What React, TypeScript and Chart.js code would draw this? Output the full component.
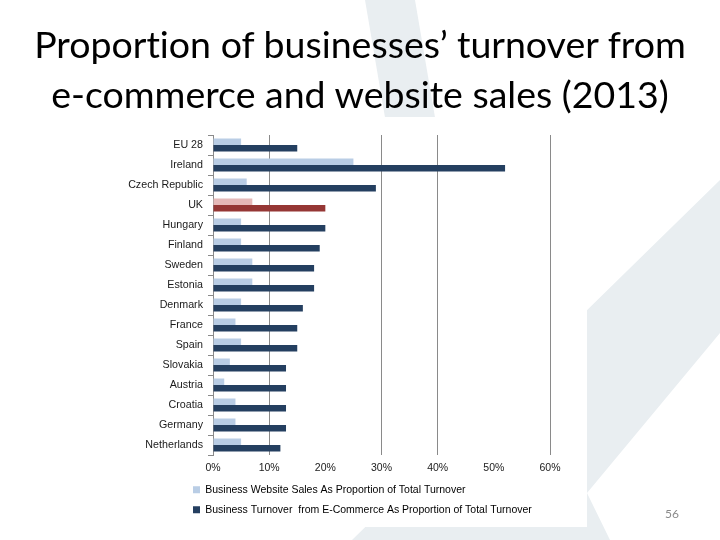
import React, { useEffect, useRef } from "react";
import { Chart, registerables } from "chart.js";

Chart.register(...registerables);

const countries = [
  "EU 28", "Ireland", "Czech Republic", "UK", "Hungary", "Finland", "Sweden", "Estonia",
  "Denmark", "France", "Spain", "Slovakia", "Austria", "Croatia", "Germany", "Netherlands",
];
const websiteSales = [5, 25, 6, 7, 5, 5, 7, 7, 5, 4, 5, 3, 2, 4, 4, 5];
const eCommerce = [15, 52, 29, 20, 20, 19, 18, 18, 16, 15, 15, 13, 13, 13, 13, 12];
const seriesNames = [
  "Business Website Sales As Proportion of Total Turnover",
  "Business Turnover  from E-Commerce As Proportion of Total Turnover",
];
const highlighted = "UK";
const xMax = 60;
const xStep = 10;
const hiddenGridValues = [20, 50];

const titleLines = [
  "Proportion of businesses\u2019 turnover from",
  "e-commerce and website sales (2013)",
];
const pageNumber = "56";

const LIGHT = "#b9cde5";
const DARK = "#243f60";
const LIGHT_HI = "#e6b9b8";
const DARK_HI = "#953735";
const GRID = "#8a8a8a";
const TEXT = "#1a1a1a";

const legendShift = {
  id: "legendShift",
  afterLayout(chart: any) {
    const lg = chart.legend;
    if (!lg) return;
    const pad = lg.options.labels.padding || 0;
    lg.left = chart.chartArea.left - 20 - pad;
    lg.right = chart.width;
    lg.width = lg.right - lg.left;
  },
};

export default function App() {
  const ref = useRef<HTMLCanvasElement | null>(null);

  useEffect(() => {
    if (!ref.current) return;
    const hiIdx = countries.indexOf(highlighted);
    const chart = new Chart(ref.current, {
      type: "bar",
      data: {
        labels: countries,
        datasets: [
          {
            label: seriesNames[0],
            data: websiteSales,
            backgroundColor: (c: any) => (c.dataIndex === hiIdx ? LIGHT_HI : LIGHT),
            categoryPercentage: 0.65,
            barPercentage: 1.0,
          },
          {
            label: seriesNames[1],
            data: eCommerce,
            backgroundColor: (c: any) => (c.dataIndex === hiIdx ? DARK_HI : DARK),
            categoryPercentage: 0.65,
            barPercentage: 1.0,
          },
        ],
      },
      plugins: [legendShift],
      options: {
        indexAxis: "y",
        animation: false,
        responsive: false,
        layout: { padding: { top: 135, left: 0, right: 170, bottom: 15 } },
        scales: {
          x: {
            min: 0,
            max: xMax,
            border: { display: false },
            grid: {
              drawTicks: false,
              color: (c: any) =>
                c.tick && hiddenGridValues.includes(c.tick.value) ? "rgba(0,0,0,0)" : GRID,
            },
            ticks: {
              stepSize: xStep,
              padding: 7,
              color: TEXT,
              font: { family: "'Liberation Sans', Arial, sans-serif", size: 10.5 },
              callback: (v: any) => v + "%",
            },
            afterFit: (s: any) => {
              s.height = 20;
            },
          },
          y: {
            border: { display: true, color: GRID },
            grid: { drawOnChartArea: false, tickLength: 5, color: GRID },
            ticks: {
              padding: 5,
              color: TEXT,
              font: { family: "'Liberation Sans', Arial, sans-serif", size: 10.7 },
            },
            afterFit: (s: any) => {
              s.width = 213;
            },
          },
        },
        plugins: {
          title: { display: false },
          tooltip: { enabled: false },
          legend: {
            position: "bottom",
            align: "start",
            fullSize: false,
            labels: {
              boxWidth: 7,
              boxHeight: 7,
              padding: 9.5,
              color: TEXT,
              font: { family: "'Liberation Sans', Arial, sans-serif", size: 10.5 },
              generateLabels: () => [
                { text: seriesNames[0], fillStyle: LIGHT, strokeStyle: LIGHT, lineWidth: 0, datasetIndex: 0, hidden: false },
                { text: seriesNames[1], fillStyle: DARK, strokeStyle: DARK, lineWidth: 0, datasetIndex: 1, hidden: false },
              ],
            },
          },
        },
      },
    } as any);
    return () => chart.destroy();
  }, []);

  return (
    <div style={{ position: "absolute", left: 0, top: 0, width: 720, height: 540, overflow: "hidden", background: "#fff" }}>
      <svg width={720} height={540} style={{ position: "absolute", left: 0, top: 0 }}>
        <polygon points="365,0 415,0 507,540 457,540" fill="#e9eef1" />
        <polygon points="720,180 720,333 587,493 610,540 352,540" fill="#e9eef1" />
        <rect x={105} y={117} width={482} height={410} fill="#ffffff" />
      </svg>
      <canvas ref={ref} width={720} height={540} style={{ position: "absolute", left: 0, top: 0, width: 720, height: 540 }} />
      <div
        style={{
          position: "absolute",
          left: 0,
          top: 19,
          width: 720,
          textAlign: "center",
          fontFamily: "Lato, 'Open Sans', sans-serif",
          fontSize: 37.5,
          lineHeight: "50px",
          fontVariantLigatures: "none",
          fontFeatureSettings: '"liga" 0',
          color: "#000",
          whiteSpace: "nowrap",
        }}
      >
        {titleLines.map((t, i) => (
          <div key={i}>{t}</div>
        ))}
      </div>
      <div
        style={{
          position: "absolute",
          left: 652,
          top: 506,
          width: 40,
          textAlign: "center",
          fontFamily: "Lato, 'Open Sans', sans-serif",
          fontSize: 12,
          color: "#8a8a8a",
        }}
      >
        {pageNumber}
      </div>
    </div>
  );
}
